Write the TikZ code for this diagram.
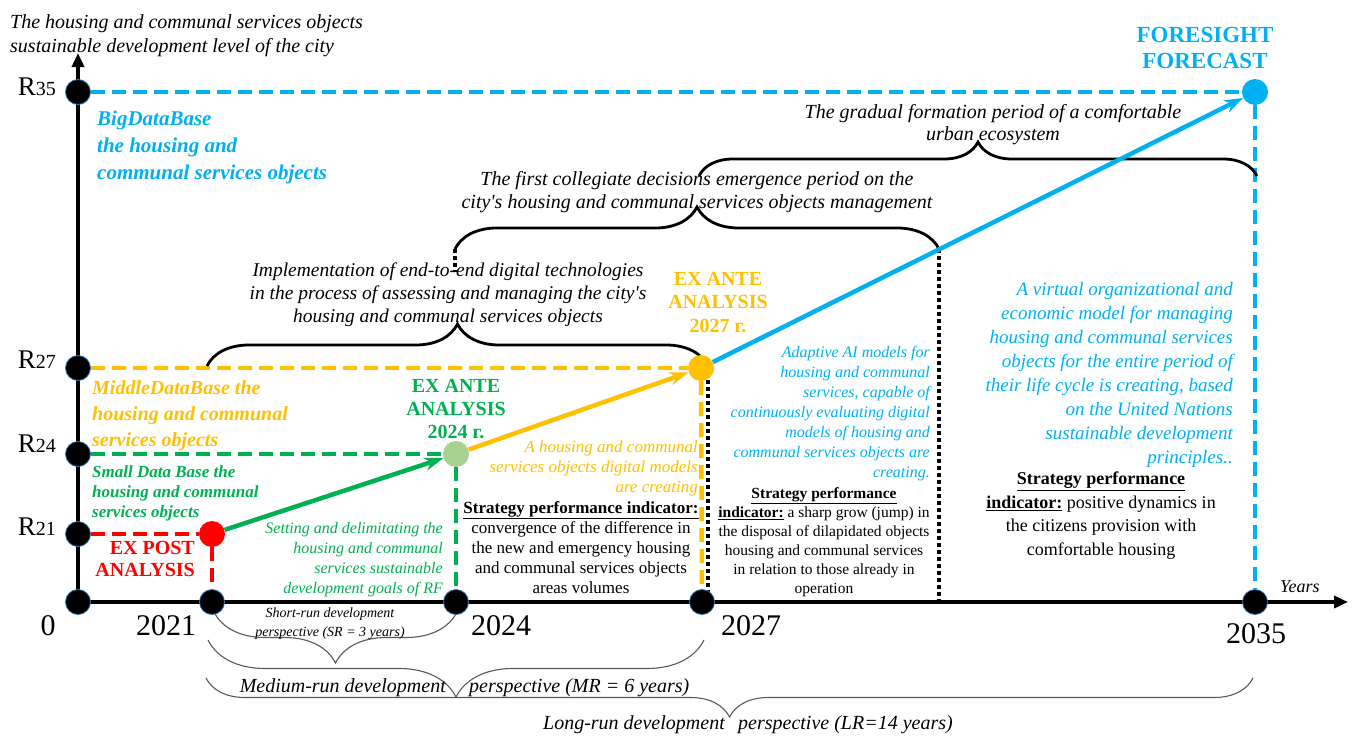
\documentclass[tikz,border=0pt]{standalone}
\usepackage{fontspec}
\setmainfont{Liberation Serif}[Ligatures=TeXOff]
\usepackage{tikz}
\usetikzlibrary{backgrounds}
\usetikzlibrary{decorations.pathreplacing}
\usetikzlibrary{arrows.meta, positioning}
\definecolor{fcyan}{HTML}{00B0F0}
\definecolor{fyellow}{HTML}{FFC000}
\definecolor{fgreen}{HTML}{00B050}
\definecolor{flgreen}{HTML}{A9D18E}
\definecolor{fred}{HTML}{FF0000}
\definecolor{dotrim}{HTML}{2E75B6}
\definecolor{bgray}{HTML}{595959}
\newcommand{\fs}[2]{\fontsize{#1}{#2}\selectfont}
\newcommand{\axisdot}[2]{\node[axdot] (#1) at (#2) {};}
\tikzset{>={Stealth[length=19pt,width=13pt]},
    x=1pt, y=-1pt,
    axdot/.style={circle,draw=dotrim,line width=0.8pt,fill=black,minimum size=25pt,inner sep=0pt},
    stage/.style={circle,minimum size=26pt,inner sep=0pt},
    axisline/.style={line width=3.5pt,-{Triangle[length=14pt,width=12pt]}},
    lvline/.style={line width=4.5pt,dash pattern=on 14pt off 7pt},
    trend/.style={line width=4.5pt,->},
    boundline/.style={line width=3.5pt,dash pattern=on 3.5pt off 3.5pt},
    period/.style={line width=2.8pt,decorate,decoration={brace,amplitude=#1}},
    spanbrace/.style={line width=1.1pt,draw=bgray,decorate,decoration={brace,mirror,amplitude=#1}},
    textnode/.style={inner sep=0pt},
    rlabel/.style={inner sep=0pt,anchor=base east,font=\fs{27}{27}},
    yearlabel/.style={inner sep=0pt,anchor=base,font=\fs{30}{30}}}
\begin{document}
\begin{tikzpicture}
\useasboundingbox (0,0) rectangle (1352,736);
% points on the axes
\axisdot{o}{78,602}
\axisdot{r21}{78,534}
\axisdot{r24}{78,454}
\axisdot{r27}{78,368}
\axisdot{r35}{78,92}
\axisdot{y21}{212,602}
\axisdot{y24}{456,602}
\axisdot{y27}{702,602}
\axisdot{y35}{1255,602}
\coordinate (ytop) at (78,53);
\coordinate (xend) at (1348,602);
% analysis points
\node[stage,fill=fred]    (post)   at (212,534) {};
\node[stage,fill=flgreen] (ante24) at (456,454) {};
\node[stage,fill=fyellow] (ante27) at (701,368) {};
\node[stage,fill=fcyan]   (fore)   at (1255,92) {};
% brace ends
\coordinate (g1) at (699,176);  \coordinate (g2) at (1257,176);
\coordinate (m1) at (455,249);  \coordinate (m2) at (939,249);
\coordinate (m0) at (455,272);  \coordinate (m3) at (939,600);
\coordinate (l1) at (207,366);  \coordinate (l2) at (708,366);
\coordinate (d2) at (708,600);
\coordinate (s1) at (214,612);  \coordinate (s2) at (457,612);
\coordinate (md1) at (208,640); \coordinate (md2) at (704,640);
\coordinate (lg1) at (206,678); \coordinate (lg2) at (1253,678);

\begin{scope}[on background layer]
\draw[axisline] (o.center) -- (ytop);
\draw[axisline] (o.center) -- (xend);
\draw[lvline,fcyan] (r35) -- (fore);
\draw[lvline,fcyan] (fore) -- (y35);
\draw[lvline,fyellow] (r27) -- (ante27);
\draw[lvline,fyellow] (ante27) -- (y27);
\draw[lvline,fgreen] (r24) -- (ante24);
\draw[lvline,fgreen] (ante24) -- (y24);
\draw[lvline,fred] (r21) -- (post);
\draw[lvline,fred] (post) -- (y21);
\draw[boundline] (m1) -- (m0);
\draw[boundline] (m2) -- (m3);
\draw[boundline] (l2) -- (d2);
\draw[period=34pt] (g1) -- (g2);
\draw[period=42pt] (m1) -- (m2);
\draw[period=42pt] (l1) -- (l2);
\draw[spanbrace=51pt] (s1) -- (s2);
\draw[spanbrace=57pt] (md1) -- (md2);
\draw[spanbrace=39pt] (lg1) -- (lg2);
\draw[trend,fgreen] (post) -- (ante24);
\draw[trend,fyellow] (ante24) -- (ante27);
\draw[trend,fcyan] (ante27) -- (fore);
\end{scope}

% axis labels
\node[textnode,anchor=north west,align=left,font=\itshape\fs{20}{24}] (title) at (10,14)
    {The housing and communal services objects\\sustainable development level of the city};
\node[rlabel] (l35) at (56,95) {R\fs{20}{20}35};
\node[rlabel] (l27) at (56,368) {R\fs{20}{20}27};
\node[rlabel] (l24) at (56,452) {R\fs{20}{20}24};
\node[rlabel] (l21) at (56,535) {R\fs{20}{20}21};
\node[yearlabel] (t0)  at (48,635) {0};
\node[yearlabel] (t21) at (166,635) {2021};
\node[yearlabel] (t24) at (501,635) {2024};
\node[yearlabel] (t27) at (751,635) {2027};
\node[yearlabel] (t35) at (1256,643) {2035};
\node[textnode,anchor=base west,font=\itshape\fs{18}{18}] (yrs) at (1280,592) {Years};

% data bases
\node[textnode,anchor=north west,align=left,text=fcyan,font=\bfseries\itshape\fs{21}{27}] (bigdb) at (97,111)
    {BigDataBase\\the housing and\\communal services objects};
\node[textnode,anchor=north west,align=left,text=fyellow,font=\bfseries\itshape\fs{20}{26}] (middb) at (92,380)
    {MiddleDataBase the\\housing and communal\\services objects};
\node[textnode,anchor=north west,align=left,text=fgreen,font=\bfseries\itshape\fs{17}{20}] (smalldb) at (92,465)
    {Small Data Base the\\housing and communal\\services objects};

% analysis stages
\node[textnode,anchor=north,align=center,text=fcyan,font=\bfseries\fs{23}{26}] (fst) at (1205,27)
    {FORESIGHT\\FORECAST};
\node[textnode,anchor=north east,align=right,text=fred,font=\bfseries\fs{20}{22}] (expost) at (195,541)
    {EX POST\\ANALYSIS};
\node[textnode,anchor=north,align=center,text=fgreen,font=\bfseries\fs{20}{23}] (exa24) at (456,379)
    {EX ANTE\\ANALYSIS\\2024 г.};
\node[textnode,anchor=north,align=center,text=fyellow,font=\bfseries\fs{20}{23.5}] (exa27) at (718,272)
    {EX ANTE\\ANALYSIS\\2027 г.};

% stage contents
\node[textnode,anchor=north east,align=right,text=fgreen,font=\itshape\fs{16}{20}] (goals) at (443,522)
    {Setting and delimitating the\\housing and communal\\services sustainable\\development goals of RF};
\node[textnode,anchor=north east,align=right,text=fyellow,font=\itshape\fs{17}{20}] (models) at (698,440)
    {A housing and communal\\services objects digital models\\are creating};
\node[textnode,anchor=north,align=center,font=\fs{17}{20}] (kpi24) at (581,501)
    {\underline{\textbf{Strategy performance indicator:}}\\convergence of the difference in\\the new and emergency housing\\and communal services objects\\areas volumes};
\node[textnode,anchor=north east,align=right,text=fcyan,font=\itshape\fs{16}{20}] (aimodels) at (930,346)
    {Adaptive AI models for\\housing and communal\\services, capable of\\continuously evaluating digital\\models of housing and\\communal services objects are\\creating.};
\node[textnode,anchor=north,align=center,font=\fs{15.5}{19}] (kpi27) at (824,487)
    {\underline{\textbf{Strategy performance}}\\\underline{\textbf{indicator:}} a sharp grow (jump) in\\the disposal of dilapidated objects\\housing and communal services\\in relation to those already in\\operation};
\node[textnode,anchor=north east,align=right,text=fcyan,font=\itshape\fs{19}{24}] (virtual) at (1233,282)
    {A virtual organizational and\\economic model for managing\\housing and communal services\\objects for the entire period of\\their life cycle is creating, based\\on the United Nations\\sustainable development\\principles..};
\node[textnode,anchor=north,align=center,font=\fs{18}{23.5}] (kpi35) at (1101,472)
    {\underline{\textbf{Strategy performance}}\\\underline{\textbf{indicator:}} positive dynamics in\\the citizens provision with\\comfortable housing};

% periods
\node[textnode,anchor=north,align=center,font=\itshape\fs{19.5}{23}] (impl) at (448,263)
    {Implementation of end-to-end digital technologies\\in the process of assessing and managing the city's\\housing and communal services objects};
\node[textnode,anchor=north,align=center,font=\itshape\fs{20}{23}] (colleg) at (697,171)
    {The first collegiate decisions emergence period on the\\city's housing and communal services objects management};
\node[textnode,anchor=north,align=center,font=\itshape\fs{20}{22}] (gradual) at (993,104)
    {The gradual formation period of a comfortable\\urban ecosystem};

% perspectives
\node[textnode,anchor=north,align=center,font=\itshape\fs{14}{19}] (srun) at (330,608)
    {Short-run development\\perspective (SR = 3 years)};
\node[textnode,anchor=base east,font=\itshape\fs{20}{20}] (mrun1) at (446,692) {Medium-run development};
\node[textnode,anchor=base west,font=\itshape\fs{20}{20}] (mrun2) at (469,692) {perspective (MR = 6 years)};
\node[textnode,anchor=base east,font=\itshape\fs{20}{20}] (lrun1) at (725,729) {Long-run development};
\node[textnode,anchor=base west,font=\itshape\fs{20}{20}] (lrun2) at (738,729) {perspective (LR=14 years)};
\end{tikzpicture}
\end{document}
